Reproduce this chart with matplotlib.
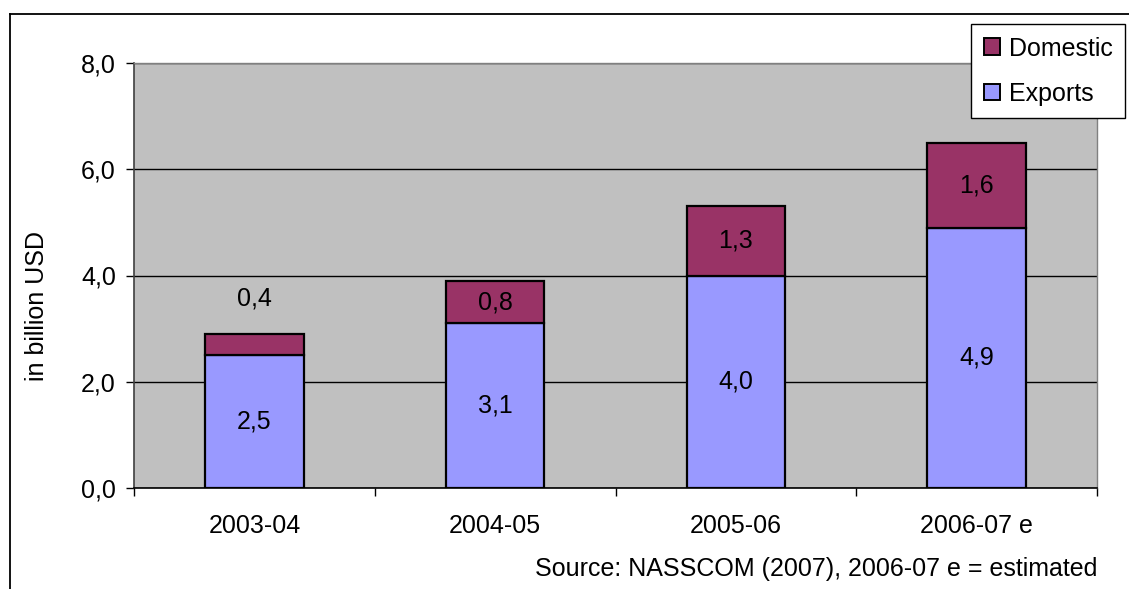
import matplotlib
matplotlib.use("Agg")
import matplotlib.pyplot as plt
from matplotlib.lines import Line2D
import matplotlib.patches as mpatches

periods = ["2003-04", "2004-05", "2005-06", "2006-07 e"]
exports = [2.5, 3.1, 4.0, 4.9]
domestic = [0.4, 0.8, 1.3, 1.6]
y_ticks = [0, 2, 4, 6, 8]

plt.rcParams["font.family"] = ["Liberation Sans", "DejaVu Sans"]
fs = 18

W, H = 1129, 589
fig = plt.figure(figsize=(W / 100, H / 100), dpi=100)
ax = fig.add_axes([134 / W, 1 - 488 / H, (1097 - 134) / W, (488 - 63) / H])

c_exp = "#9999FF"
c_dom = "#993366"
ax.set_facecolor("#C0C0C0")

x = list(range(len(periods)))
bw = 0.41
ax.bar(x, exports, bw, color=c_exp, edgecolor="black", linewidth=1.6, zorder=3)
ax.bar(x, domestic, bw, bottom=exports, color=c_dom, edgecolor="black", linewidth=1.6, zorder=3)

for i in x:
    ax.text(i, exports[i] / 2, f"{exports[i]:.1f}".replace(".", ","),
            ha="center", va="center", fontsize=fs, zorder=4)
    if domestic[i] < 0.6:
        yd = exports[i] + domestic[i] + 0.67
    else:
        yd = exports[i] + domestic[i] / 2
    ax.text(i, yd, f"{domestic[i]:.1f}".replace(".", ","),
            ha="center", va="center", fontsize=fs, zorder=4)

ax.set_xlim(-0.5, len(periods) - 0.5)
ax.set_ylim(0, 8)
ax.set_yticks(y_ticks)
ax.set_yticklabels([f"{v:.1f}".replace(".", ",") for v in y_ticks], fontsize=fs)
ax.set_xticks(x)
ax.set_xticklabels(periods, fontsize=fs)
ax.tick_params(axis="x", length=0, pad=19)
ax.set_xticks([i - 0.5 for i in range(len(periods) + 1)], minor=True)
ax.tick_params(axis="x", which="minor", length=6, width=1, direction="out")
ax.tick_params(axis="y", length=6, width=1, direction="out", pad=7)

ax.grid(axis="y", color="black", linewidth=1, zorder=1)
ax.set_axisbelow(True)

for s in ("top", "right"):
    ax.spines[s].set_color("#808080")
    ax.spines[s].set_linewidth(1)
ax.spines["left"].set_color("#404040")
ax.spines["left"].set_linewidth(1.2)
ax.spines["bottom"].set_color("black")
ax.spines["bottom"].set_linewidth(1.2)

fig.text(37 / W, 1 - 306 / H, "in billion USD", rotation=90,
         ha="center", va="center", fontsize=fs)
fig.text(1097 / W, 1 - 569 / H, "Source: NASSCOM (2007), 2006-07 e = estimated",
         ha="right", va="center", fontsize=fs)

# outer frame (left and top edges)
fig.add_artist(Line2D([10 / W, 10 / W], [1 - 14 / H, 0], color="black", linewidth=1.3,
                      transform=fig.transFigure))
fig.add_artist(Line2D([10 / W, 1], [1 - 14 / H, 1 - 14 / H], color="black", linewidth=1.3,
                      transform=fig.transFigure))

handles = [
    mpatches.Patch(facecolor=c_dom, edgecolor="black", linewidth=1.4, label="Domestic"),
    mpatches.Patch(facecolor=c_exp, edgecolor="black", linewidth=1.4, label="Exports"),
]
leg = fig.legend(handles=handles, loc="upper right", bbox_to_anchor=(1125 / W, 1 - 24 / H),
                 fontsize=fs, fancybox=False, framealpha=1, edgecolor="black",
                 handlelength=0.65, handleheight=0.65, handletextpad=0.35,
                 borderpad=0.5, labelspacing=0.85, borderaxespad=0)
leg.get_frame().set_linewidth(1)

fig.savefig("out.png", dpi=100)
